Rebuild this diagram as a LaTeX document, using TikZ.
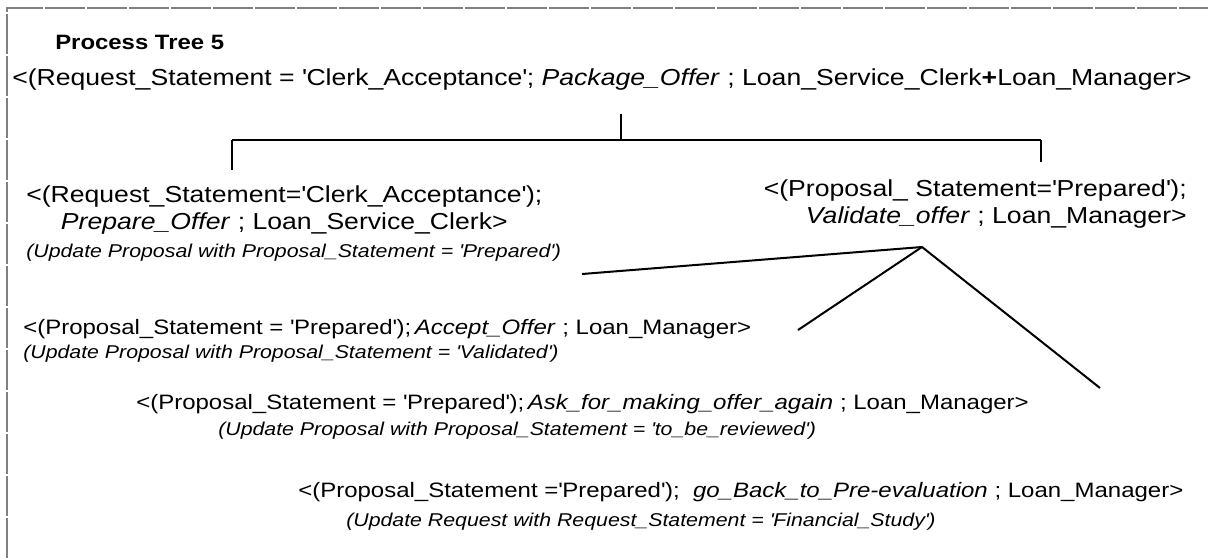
\documentclass[tikz,border=0pt]{standalone}
\usepackage{fontspec}
\setmainfont{Liberation Sans}[FakeStretch=1.15]
\usepackage{tikz}
\usetikzlibrary{positioning}
\newcommand{\sq}{\textquotesingle}
\tikzset{
  pborder/.style={black!50, line width=2.2pt, dash pattern=on 30pt off 1.5pt},
  ptitle/.style={font=\fontsize{15.6}{18}\selectfont\bfseries, inner sep=0pt},
  pstmt/.style={font=\fontsize{17.35}{20.25}\selectfont, inner sep=0pt},
  plow/.style={font=\fontsize{15.65}{18}\selectfont, inner sep=0pt},
  pnote/.style={font=\fontsize{13.9}{16}\selectfont\itshape, inner sep=0pt},
  pedge/.style={black, line width=1.5pt},
}

\begin{document}
\begin{tikzpicture}[x=0.75pt,y=-0.75pt]
  \useasboundingbox (0,0) rectangle (1208,558);

  % cadre
  \draw[pborder] (7,558) -- (7,8) -- (1208,8);

  % racine
  \node[ptitle, anchor=base west] (title) at (55,49) {Process Tree 5};
  \node[pstmt, anchor=base west] (root) at (12,85)
    {<(Request\_Statement = \sq Clerk\_Acceptance\sq; \textit{Package\_Offer} ; Loan\_Service\_Clerk\textbf{+}Loan\_Manager>};

  % premier niveau
  \node[pstmt, align=center, anchor=north west] (prep) at (26,185)
    {<(Request\_Statement=\sq Clerk\_Acceptance\sq);\\\textit{Prepare\_Offer} ; Loan\_Service\_Clerk>};
  \node[pnote, anchor=base west] (prepnote) at (26,257)
    {(Update Proposal with Proposal\_Statement = \sq Prepared\sq)};
  \node[pstmt, align=right, anchor=north east] (valid) at (1187,179)
    {<(Proposal\_ Statement=\sq Prepared\sq);\\\textit{Validate\_offer} ; Loan\_Manager>};

  \coordinate (fork) at (621,140);
  \coordinate (lbar) at (232,140);
  \coordinate (rbar) at (1041,140);
  \draw[pedge] ([yshift=-18pt]root.south -| fork) -- (fork);
  \draw[pedge] (lbar) -- (rbar);
  \draw[pedge, shorten >=11pt] (lbar) -- (lbar |- prep.north);
  \draw[pedge, shorten >=12.5pt] (rbar) -- (rbar |- valid.north);

  % second niveau
  \node[plow, anchor=base west] (accept) at (23,334)
    {<(Proposal\_Statement = \sq Prepared\sq);\,\textit{Accept\_Offer} ; Loan\_Manager>};
  \node[pnote, anchor=base west] (acceptnote) at (23,358)
    {(Update Proposal with Proposal\_Statement = \sq Validated\sq)};
  \node[plow, anchor=base west] (ask) at (136,409)
    {<(Proposal\_Statement = \sq Prepared\sq);\,\textit{Ask\_for\_making\_offer\_again} ; Loan\_Manager>};
  \node[pnote, anchor=base west] (asknote) at (218,435)
    {(Update Proposal with Proposal\_Statement = \sq to\_be\_reviewed\sq)};
  \node[plow, anchor=base west] (back) at (298,497)
    {<(Proposal\_Statement =\sq Prepared\sq);\ \ \textit{go\_Back\_to\_Pre-evaluation} ; Loan\_Manager>};
  \node[pnote, anchor=base west] (backnote) at (346,526)
    {(Update Request with Request\_Statement = \sq Financial\_Study\sq)};

  \coordinate (apex) at (922,247);
  \coordinate (ltip) at (582,274);
  \coordinate (atip) at (798,330);
  \coordinate (rtip) at (1100,388);
  \draw[pedge] (ltip) -- (apex) -- (rtip);
  \draw[pedge] (apex) -- (atip);

\end{tikzpicture}
\end{document}
